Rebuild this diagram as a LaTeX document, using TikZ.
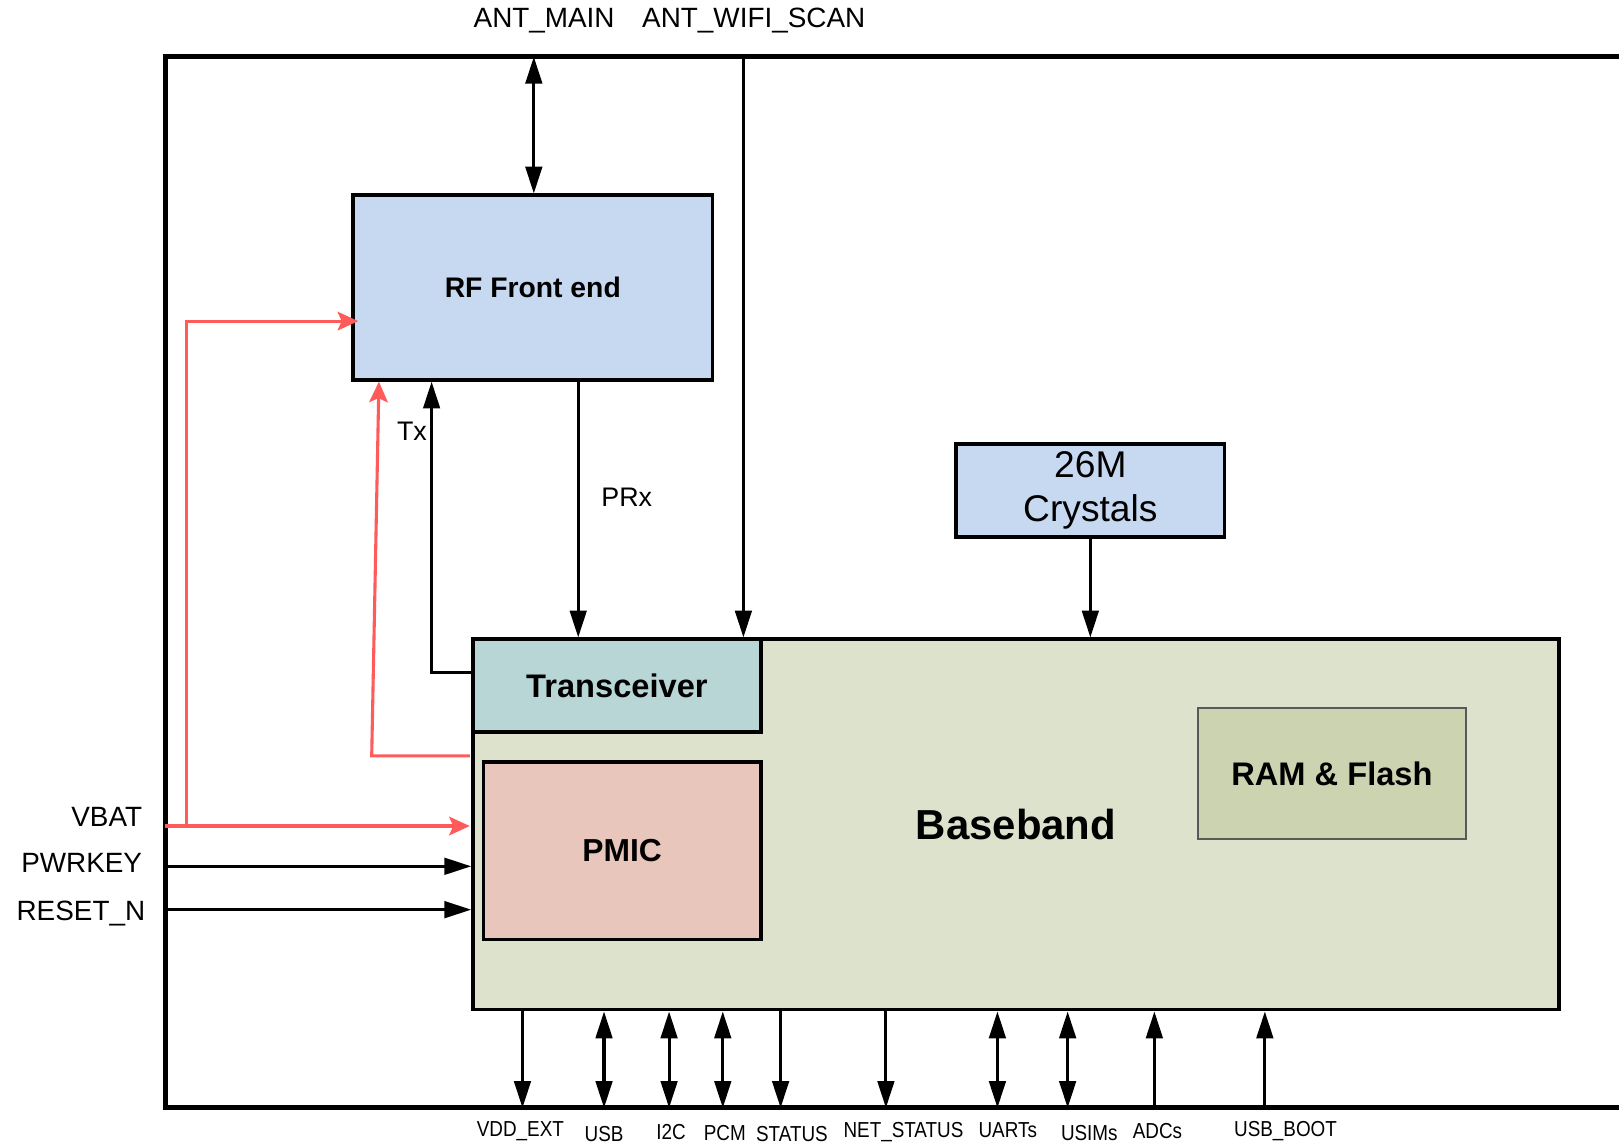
\documentclass[tikz,border=0pt]{standalone}
\usepackage{fontspec}
\setmainfont{Liberation Sans}
\newfontfamily\narrowsans[FakeStretch=0.87]{Liberation Sans}
\usetikzlibrary{arrows.meta}

\definecolor{rfblue}{HTML}{C6D9F1}
\definecolor{bbgreen}{HTML}{DDE2CD}
\definecolor{trxteal}{HTML}{B9D6D7}
\definecolor{pmicpink}{HTML}{E8C6BC}
\definecolor{ramolive}{HTML}{CCD3B0}
\definecolor{pwrred}{HTML}{FF5B5B}

\tikzset{
  block/.style={draw, line width=1.6pt, inner sep=0pt, font=\bfseries},
  sig/.style={line width=1.5pt, -{Triangle[length=13pt,width=8pt]}},
  dbl/.style={line width=1.5pt, {Triangle[length=13pt,width=8pt]}-{Triangle[length=13pt,width=8pt]}},
  pwr/.style={line width=1.5pt, pwrred, -{Stealth[length=10pt,width=9pt,inset=2pt]}},
  portlabel/.style={inner sep=0pt, font=\fontsize{13.5}{16}\selectfont},
  pinlabel/.style={inner sep=0pt, font=\narrowsans\fontsize{10.5}{12}\selectfont},
}

\begin{document}
\begin{tikzpicture}[x=0.5pt, y=-0.5pt]
    \useasboundingbox (0,0) rectangle (1568,1107);

    % module outline
    \draw[line width=2.5pt] (1568,55) -- (160,55) -- (160,1073) -- (1568,1073);

    % blocks
    \node[block, fill=rfblue, minimum width=174pt, minimum height=89.5pt,
          font=\bfseries\fontsize{13.7}{16}\selectfont] (rf) at (516,278.5) {RF Front end};
    \node[block, fill=rfblue, minimum width=130pt, minimum height=45pt, align=center,
          font=\fontsize{18}{21.5}\selectfont] (xtal) at (1056,475) {26M\\Crystals};
    \node[block, fill=bbgreen, minimum width=526pt, minimum height=179.5pt,
          font=\bfseries\fontsize{20.3}{24}\selectfont] (bb) at (984,798.5) {Baseband};
    \node[block, fill=trxteal, minimum width=139.5pt, minimum height=45pt,
          font=\bfseries\fontsize{15.8}{18}\selectfont] (trx) at (597.5,664) {Transceiver};
    \node[block, fill=pmicpink, minimum width=134.5pt, minimum height=86pt,
          font=\bfseries\fontsize{15.4}{18}\selectfont] (pmic) at (602.5,824) {PMIC};
    \node[block, fill=ramolive, draw=black!65, line width=1pt, minimum width=130pt, minimum height=63.5pt,
          font=\bfseries\fontsize{15.8}{18}\selectfont] (ram) at (1290,749.5) {RAM \& Flash};

    % antenna ports
    \node[portlabel] (antmainl) at (527,20) {ANT\_MAIN};
    \node[portlabel] (antwifil) at (730,20) {ANT\_WIFI\_SCAN};
    \coordinate (antmain) at (517,55);
    \coordinate (antwifi) at (720,55);
    \draw[dbl] (antmain) -- (rf.north -| antmain);
    \draw[sig] (antwifi) -- (trx.north -| antwifi);

    % RF paths
    \draw[sig] (rf.south -| 560,0) -- (trx.north -| 560,0);
    \node[portlabel, font=\fontsize{13}{16}\selectfont] (prx) at (607,482) {PRx};
    \draw[sig] (trx.west |- 0,651) -- (418,651) -- (rf.south -| 418,0);
    \node[portlabel, font=\fontsize{13}{16}\selectfont] (tx) at (399,418) {Tx};

    % clock
    \draw[sig] (xtal) -- (bb.north -| xtal);

    % power and control inputs
    \node[portlabel, anchor=east] (vbatl) at (138,791) {VBAT};
    \node[portlabel, anchor=east] (pwrkeyl) at (138,836) {PWRKEY};
    \node[portlabel, anchor=east] (resetl) at (141,885) {RESET\_N};
    \coordinate (vbat) at (160,800);
    \coordinate (pwrkey) at (160,839);
    \coordinate (reset) at (160,881);
    \draw[pwr] (vbat) -- (455,800);
    \draw[pwr] (181,800) -- (181,311) -- (347,311);
    \draw[pwr] (455,732) -- (360,732) -- (rf.south -| 367,0);
    \draw[sig] (pwrkey) -- (bb.west |- pwrkey);
    \draw[sig] (reset) -- (bb.west |- reset);

    % bottom interfaces
    \coordinate (vddext) at (506,1073);
    \coordinate (usb) at (585,1073);
    \coordinate (itwoc) at (648,1073);
    \coordinate (pcm) at (700,1073);
    \coordinate (status) at (756,1073);
    \coordinate (netstatus) at (858,1073);
    \coordinate (uarts) at (966,1073);
    \coordinate (usims) at (1034,1073);
    \coordinate (adcs) at (1118,1073);
    \coordinate (usbboot) at (1225,1073);

    \draw[sig] (bb.south -| vddext) -- (vddext);
    \draw[dbl] (bb.south -| usb) -- (usb);
    \draw[dbl] (bb.south -| itwoc) -- (itwoc);
    \draw[dbl] (bb.south -| pcm) -- (pcm);
    \draw[sig] (bb.south -| status) -- (status);
    \draw[sig] (bb.south -| netstatus) -- (netstatus);
    \draw[dbl] (bb.south -| uarts) -- (uarts);
    \draw[dbl] (bb.south -| usims) -- (usims);
    \draw[sig] (adcs) -- (bb.south -| adcs);
    \draw[sig] (usbboot) -- (bb.south -| usbboot);

    \node[pinlabel] (vddextl) at (504,1096) {VDD\_EXT};
    \node[pinlabel] (usbl) at (585,1098) {USB};
    \node[pinlabel] (itwocl) at (650,1096) {I2C};
    \node[pinlabel] (pcml) at (702,1097) {PCM};
    \node[pinlabel] (statusl) at (767,1098) {STATUS};
    \node[pinlabel] (netstatusl) at (875,1096) {NET\_STATUS};
    \node[pinlabel] (uartsl) at (976,1095) {UARTs};
    \node[pinlabel] (usimsl) at (1055,1097) {USIMs};
    \node[pinlabel] (adcsl) at (1121,1095) {ADCs};
    \node[pinlabel] (usbbootl) at (1245,1095) {USB\_BOOT};
  \end{tikzpicture}
\end{document}
